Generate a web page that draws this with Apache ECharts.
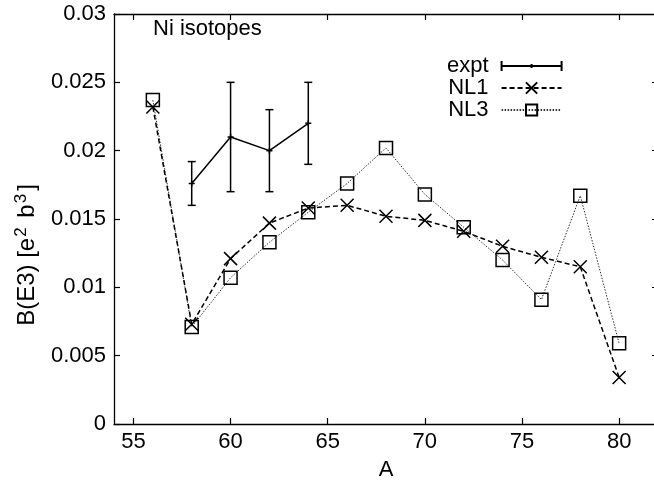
<!DOCTYPE html>
<html><head><meta charset="utf-8">
<script src="https://cdn.jsdelivr.net/npm/echarts@6/dist/echarts.min.js"></script>
<style>html,body{margin:0;padding:0;background:#fff}#c{width:654px;height:482px}</style>
</head><body><div id="c"></div>
<script>
const isotopeA = [56,58,60,62,64,66,68,70,72,74,76,78,80];
const nl1 = [0.0232,0.0073,0.0121,0.0147,0.0158,0.0160,0.0152,0.0149,0.0141,0.0130,0.0122,0.0115,0.0034];
const nl3 = [0.0237,0.0071,0.0107,0.0133,0.0155,0.0176,0.0202,0.0168,0.0144,0.0120,0.0091,0.0167,0.0059];
const exptA = [58,60,62,64];
const exptVal = [0.0176,0.0210,0.0200,0.0220];
const exptLow = [0.0160,0.0170,0.0170,0.0190];
const exptHigh = [0.0192,0.0250,0.0230,0.0250];
const xTicks = [55,60,65,70,75,80];
const yTicks = [0,0.005,0.01,0.015,0.02,0.025,0.03];
const seriesNames = ['expt','NL1','NL3'];

const FONT = 'Liberation Sans';
const FS = 22;
const chart = echarts.init(document.getElementById('c'), null, {renderer:'canvas'});
const axisCommon = {
  axisLine:{show:true, onZero:false, lineStyle:{color:'#000', width:1.3}},
  axisTick:{show:true, inside:true, length:6, lineStyle:{color:'#000', width:1.2}},
  splitLine:{show:false}
};
const xBase = (pos, labels) => Object.assign({}, axisCommon, {
  type:'value', min:54, max:82, position:pos,
  axisTick:Object.assign({}, axisCommon.axisTick, {customValues:xTicks}),
  axisLabel:{show:labels, customValues:xTicks, fontFamily:FONT, fontSize:FS, color:'#000', margin:7}
});
const yBase = (pos, labels) => Object.assign({}, axisCommon, {
  type:'value', min:0, max:0.03, position:pos,
  axisTick:Object.assign({}, axisCommon.axisTick, {customValues:yTicks}),
  axisLabel:{show:labels, customValues:yTicks, fontFamily:FONT, fontSize:FS, color:'#000', margin:8,
    formatter: v => String(+(+v).toFixed(3))}
});
const xAxisBottom = Object.assign(xBase('bottom', true), {
  name:'A', nameLocation:'middle', nameGap:35,
  nameTextStyle:{fontFamily:FONT, fontSize:FS, color:'#000'}
});
const xAxisTop = xBase('top', false);
const yAxisLeft = yBase('left', true);
const yAxisRight = yBase('right', false);

const plusPath = 'path://M5,0L5,10M0,5L10,5';
const crossPath = 'path://M0,0L10,10M10,0L0,10';
const exptIcon = 'path://M0,0L0,10M0,5L60,5M60,0L60,10M30,3L30,7';

const option = {
  animation:false,
  backgroundColor:'#fff',
  grid:{left:114, top:14, right:-4, bottom:58, containLabel:false, outerBoundsMode:'none'},
  xAxis:[xAxisBottom, xAxisTop],
  yAxis:[yAxisLeft, yAxisRight],
  legend:{
    data:[{name:seriesNames[0], icon:exptIcon}, seriesNames[1], seriesNames[2]],
    orient:'vertical', left:447, top:55, align:'right', padding:0,
    itemWidth:60, itemHeight:14, itemGap:0,
    textStyle:{fontFamily:FONT, fontSize:FS, color:'#000', lineHeight:22, padding:[0,8,0,0]}
  },
  graphic:[
    {type:'text', left:153, top:18, style:{text:'Ni isotopes', font:FS+'px "'+FONT+'"', fill:'#000'}},
    {type:'text', x:27, y:255, rotation:Math.PI/2,
      style:{text:'{n|B(E3) [e}{s|2}{n| b}{s|3}{n|]}', align:'center', verticalAlign:'middle',
        rich:{
          n:{fontFamily:FONT, fontSize:24, fill:'#000', lineHeight:28},
          s:{fontFamily:FONT, fontSize:17, fill:'#000', lineHeight:28, verticalAlign:'top', padding:[0,3,0,1]}
        }}}
  ],
  series:[
    {
      name:'expt', type:'line', xAxisIndex:0, yAxisIndex:0,
      data:exptA.map((a,i)=>[a, exptVal[i]]),
      symbol:plusPath, symbolSize:6,
      itemStyle:{color:'rgba(0,0,0,0)', borderColor:'#000', borderWidth:1.5},
      lineStyle:{color:'#000', width:1.5, type:'solid'}, z:5
    },
    {
      name:'exptErr', type:'custom', xAxisIndex:0, yAxisIndex:0,
      data:exptA.map((a,i)=>[a, exptLow[i], exptHigh[i]]),
      renderItem:(params, api)=>{
        const lo = api.coord([api.value(0), api.value(1)]);
        const hi = api.coord([api.value(0), api.value(2)]);
        const cap = 4;
        const st = {stroke:'#000', lineWidth:1.5};
        return {type:'group', children:[
          {type:'line', shape:{x1:lo[0], y1:lo[1], x2:hi[0], y2:hi[1]}, style:st},
          {type:'line', shape:{x1:lo[0]-cap, y1:lo[1], x2:lo[0]+cap, y2:lo[1]}, style:st},
          {type:'line', shape:{x1:hi[0]-cap, y1:hi[1], x2:hi[0]+cap, y2:hi[1]}, style:st}
        ]};
      }, z:5
    },
    {
      name:'NL1', type:'line', xAxisIndex:0, yAxisIndex:0,
      data:isotopeA.map((a,i)=>[a, nl1[i]]),
      symbol:crossPath, symbolSize:13,
      itemStyle:{color:'rgba(0,0,0,0)', borderColor:'#000', borderWidth:1.5},
      lineStyle:{color:'#000', width:1.5, type:[5,3]}, z:4
    },
    {
      name:'NL3', type:'line', xAxisIndex:0, yAxisIndex:0,
      data:isotopeA.map((a,i)=>[a, nl3[i]]),
      symbol:'rect', symbolSize:13,
      itemStyle:{color:'rgba(0,0,0,0)', borderColor:'#000', borderWidth:1.5},
      lineStyle:{color:'#333', width:1, type:[1.5,1.5]}, z:3
    }
  ]
};
chart.setOption(option);
</script></body></html>
